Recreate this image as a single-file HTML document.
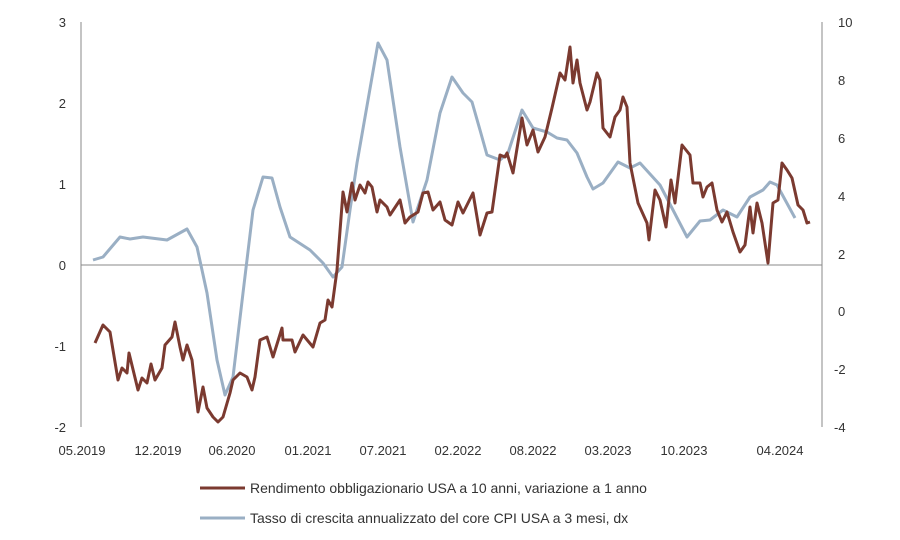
<!DOCTYPE html>
<html><head><meta charset="utf-8"><style>
html,body{margin:0;padding:0;background:#fff;width:900px;height:540px;overflow:hidden}
svg text{font-family:"Liberation Sans",sans-serif;fill:#333;font-size:13px}
</style></head><body>
<svg width="900" height="540" xmlns="http://www.w3.org/2000/svg">
<line x1="81" y1="22" x2="81" y2="427" stroke="#888" stroke-width="1"/>
<line x1="822" y1="22" x2="822" y2="427" stroke="#888" stroke-width="1"/>
<line x1="81" y1="265" x2="822" y2="265" stroke="#888" stroke-width="1"/>
<g text-anchor="end">
<text x="66" y="27">3</text><text x="66" y="108">2</text><text x="66" y="189">1</text>
<text x="66" y="270">0</text><text x="66" y="351">-1</text><text x="66" y="432">-2</text>
</g>
<g text-anchor="start">
<text x="838" y="27">10</text><text x="838" y="85">8</text><text x="838" y="143">6</text>
<text x="838" y="201">4</text><text x="838" y="259">2</text><text x="838" y="316">0</text>
<text x="834" y="374">-2</text><text x="834" y="432">-4</text>
</g>
<g text-anchor="middle">
<text x="82" y="455">05.2019</text><text x="158" y="455">12.2019</text><text x="232" y="455">06.2020</text>
<text x="308" y="455">01.2021</text><text x="383" y="455">07.2021</text><text x="458" y="455">02.2022</text>
<text x="533" y="455">08.2022</text><text x="608" y="455">03.2023</text><text x="684" y="455">10.2023</text>
<text x="780" y="455">04.2024</text>
</g>
<polyline fill="none" stroke="#9aafc4" stroke-width="3" stroke-linejoin="round" points="93,260 103,257 120,237 130,239 143,237 167,240 187,229 197,247 207,293 217,360 225,395 233,377 243,293 253,210 263,177 272,178 280,207 290,237 310,250 323,263 333,277 342,267 350,210 357,163 378,43 387,60 400,147 413,222 427,180 440,113 452,77 463,93 472,102 480,130 487,155 500,160 508,153 522,110 533,128 547,132 557,138 567,140 577,153 587,177 593,189 603,183 618,162 630,168 640,163 660,185 673,210 687,237 700,221 710,220 723,210 737,217 750,197 763,190 770,182 777,185 795,218"/>
<polyline fill="none" stroke="#7b3a30" stroke-width="3" stroke-linejoin="round" points="95,343 103,325 110,332 118,380 122,368 127,373 129,353 138,390 142,378 147,383 151,364 155,380 162,368 165,345 172,337 175,322 180,347 183,360 187,345 192,360 198,412 203,387 207,408 213,417 218,422 223,417 230,393 233,380 240,373 247,377 252,390 255,377 260,340 267,337 273,357 282,328 283,340 292,340 295,352 303,335 313,347 320,323 325,320 328,300 332,307 337,270 343,192 347,212 352,183 355,200 360,185 365,193 368,182 372,187 377,212 380,200 387,207 390,215 400,200 405,223 410,217 418,212 423,193 428,192 433,210 440,202 445,220 452,225 458,202 463,213 473,193 480,235 487,213 492,212 500,155 505,157 507,153 513,173 522,118 527,145 533,130 538,152 545,137 552,108 560,73 565,80 570,47 573,83 577,60 580,83 587,110 590,102 597,73 600,80 603,128 610,137 615,117 620,110 623,97 627,107 630,163 638,203 647,223 649,240 655,190 660,200 666,227 671,180 675,203 682,145 690,155 693,183 700,183 703,197 707,187 712,183 717,210 722,222 727,212 733,232 740,252 745,245 750,207 753,233 757,203 762,223 768,263 773,203 778,200 782,163 787,170 792,178 798,205 803,210 807,223 810,222"/>
<line x1="200" y1="488" x2="245" y2="488" stroke="#7b3a30" stroke-width="3"/>
<text x="250" y="493" style="font-size:14px">Rendimento obbligazionario USA a 10 anni, variazione a 1 anno</text>
<line x1="200" y1="518" x2="245" y2="518" stroke="#9aafc4" stroke-width="3"/>
<text x="250" y="523" style="font-size:14px">Tasso di crescita annualizzato del core CPI USA a 3 mesi, dx</text>
</svg>
</body></html>
